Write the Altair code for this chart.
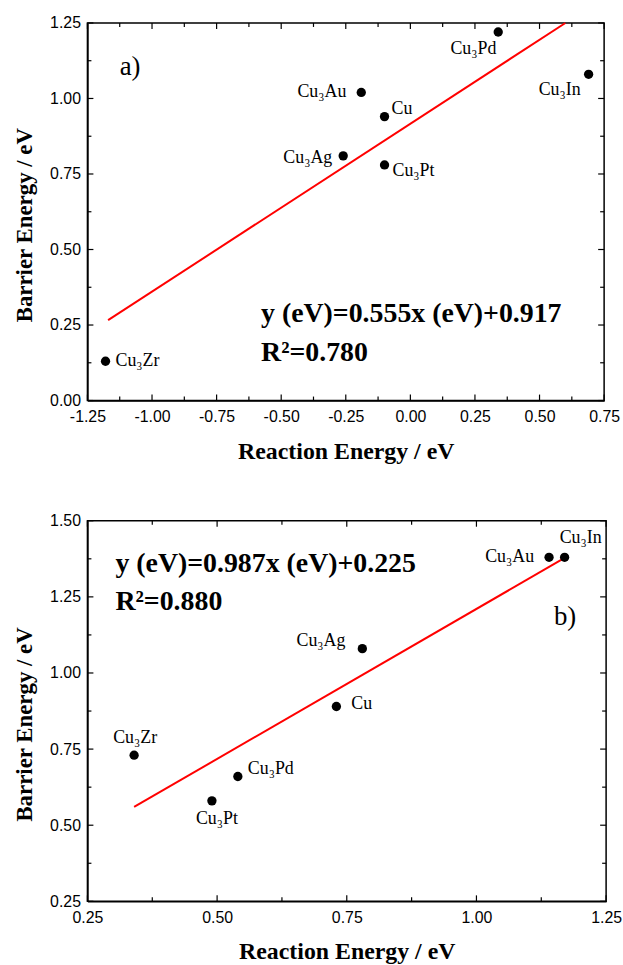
import altair as alt
import pandas as pd

# ---------------- data: panel a ----------------
a_names = ["Cu₃Pd", "Cu₃In", "Cu₃Au", "Cu", "Cu₃Ag", "Cu₃Pt", "Cu₃Zr"]
a_reaction = [0.34, 0.69, -0.19, -0.10, -0.26, -0.10, -1.18]
a_barrier = [1.22, 1.08, 1.02, 0.94, 0.81, 0.78, 0.13]
a_fit_x = [-1.17, 0.60]
a_fit_y = [0.266, 1.25]
a_x_major = [-1.25, -1.0, -0.75, -0.5, -0.25, 0.0, 0.25, 0.5, 0.75]
a_x_minor = [-1.125, -0.875, -0.625, -0.375, -0.125, 0.125, 0.375, 0.625]
a_y_major = [0.0, 0.25, 0.5, 0.75, 1.0, 1.25]
a_y_minor = [0.125, 0.375, 0.625, 0.875, 1.125]
a_eq = "y (eV)=0.555x (eV)+0.917"
a_r2 = "R²=0.780"
a_tag = "a)"

# ---------------- data: panel b ----------------
b_names = ["Cu₃In", "Cu₃Au", "Cu₃Ag", "Cu", "Cu₃Zr", "Cu₃Pd", "Cu₃Pt"]
b_reaction = [1.17, 1.14, 0.78, 0.73, 0.34, 0.54, 0.49]
b_barrier = [1.38, 1.38, 1.08, 0.89, 0.73, 0.66, 0.58]
b_fit_x = [0.34, 1.17]
b_fit_y = [0.56, 1.378]
b_x_major = [0.25, 0.5, 0.75, 1.0, 1.25]
b_x_minor = [0.375, 0.625, 0.875, 1.125]
b_y_major = [0.25, 0.5, 0.75, 1.0, 1.25, 1.5]
b_y_minor = [0.375, 0.625, 0.875, 1.125, 1.375]
b_eq = "y (eV)=0.987x (eV)+0.225"
b_r2 = "R²=0.880"
b_tag = "b)"

# ---------------- styling (offsets of point labels, in px) ----------------
a_label_style = {
    "Cu₃Pd": ("center", -25, 17),
    "Cu₃In": ("right", -8, 16),
    "Cu₃Au": ("right", -15, 0),
    "Cu": ("left", 7, -8),
    "Cu₃Ag": ("right", -11, 2),
    "Cu₃Pt": ("left", 8, 6),
    "Cu₃Zr": ("left", 10, 0),
}
b_label_style = {
    "Cu₃In": ("left", -5, -19),
    "Cu₃Au": ("right", -15, 0),
    "Cu₃Ag": ("right", -17, -8),
    "Cu": ("left", 15, -2),
    "Cu₃Zr": ("center", 1, -17),
    "Cu₃Pd": ("left", 10, -8),
    "Cu₃Pt": ("center", 5, 18),
}

SERIF = "Liberation Serif"
SANS = "Liberation Sans"
LABEL_EXPR = "replace(format(datum.value, '.2f'), '\u2212', '-')"


def panel(names, xs, ys, fit_x, fit_y, xdom, ydom, x_major, x_minor,
          y_major, y_minor, styles, eq, r2, eq_xy, r2_xy, tag, tag_xy, W, H):
    xs_ = alt.Scale(domain=xdom, nice=False, zero=False)
    ys_ = alt.Scale(domain=ydom, nice=False, zero=False)
    df = pd.DataFrame({"name": names, "reaction": xs, "barrier": ys})

    x_axis = alt.Axis(values=x_major, labelExpr=LABEL_EXPR, tickSize=0,
                      labelPadding=8, labelFlush=False, labelOverlap=False,
                      labelFont=SANS, labelFontSize=16, labelColor="black",
                      domainColor="black", domainWidth=1.5, grid=False,
                      title="Reaction Energy / eV", titleFont=SERIF,
                      titleFontWeight="bold", titleFontSize=24,
                      titleColor="black", titleX=W / 2, titleY=51,
                      titleBaseline="middle", titleAlign="center")
    y_axis = alt.Axis(values=y_major, labelExpr=LABEL_EXPR, tickSize=0,
                      labelPadding=7, labelFlush=False, labelOverlap=False,
                      labelFont=SANS, labelFontSize=16, labelColor="black",
                      domainColor="black", domainWidth=1.5, grid=False,
                      title="Barrier Energy / eV", titleFont=SERIF,
                      titleFontWeight="bold", titleFontSize=23,
                      titleColor="black", titleX=-63, titleY=H / 2 + 13,
                      titleBaseline="middle", titleAlign="center",
                      titleAngle=270)

    def X(field):
        return alt.X(field, scale=xs_, axis=x_axis)

    def Y(field):
        return alt.Y(field, scale=ys_, axis=y_axis)

    def tick_layer(values, orient, length):
        tdf = pd.DataFrame({"v": values})
        base = alt.Chart(tdf).mark_rule(color="black", strokeWidth=1.2)
        if orient == "bottom":
            return base.encode(x=X("v:Q"), y=alt.value(H), y2=alt.value(H - length))
        if orient == "top":
            return base.encode(x=X("v:Q"), y=alt.value(0), y2=alt.value(length))
        if orient == "left":
            return base.encode(y=Y("v:Q"), x=alt.value(0), x2=alt.value(length))
        return base.encode(y=Y("v:Q"), x=alt.value(W), x2=alt.value(W - length))

    fit = alt.Chart(pd.DataFrame({"x": fit_x, "y": fit_y})).mark_line(
        color="#ff0000", strokeWidth=2).encode(x=X("x:Q"), y=Y("y:Q"))

    pts = alt.Chart(df).mark_point(filled=True, color="black", size=88,
                                   opacity=1).encode(
        x=X("reaction:Q"), y=Y("barrier:Q"))

    labels = []
    for n, (al, dx, dy) in styles.items():
        labels.append(
            alt.Chart(df).transform_filter(alt.datum.name == n).mark_text(
                align=al, baseline="middle", dx=dx, dy=dy, font=SERIF,
                fontSize=18, color="black").encode(
                x=X("reaction:Q"), y=Y("barrier:Q"), text="name:N"))

    ann = pd.DataFrame({"x": [eq_xy[0], r2_xy[0]], "y": [eq_xy[1], r2_xy[1]],
                        "t": [eq, r2]})
    ann_layer = alt.Chart(ann).mark_text(
        align="left", baseline="middle", font=SERIF, fontWeight="bold",
        fontSize=28, color="black").encode(
        x=X("x:Q"), y=Y("y:Q"), text="t:N")

    tag_layer = alt.Chart(pd.DataFrame({"x": [tag_xy[0]], "y": [tag_xy[1]],
                                        "t": [tag]})).mark_text(
        align="center", baseline="middle", font=SERIF, fontSize=27,
        color="black").encode(x=X("x:Q"), y=Y("y:Q"), text="t:N")

    ticks = [
        tick_layer(x_major, "bottom", 6),
        tick_layer(x_minor, "bottom", 4),
        tick_layer(x_major, "top", 6),
        tick_layer(x_minor, "top", 4),
        tick_layer(y_major, "left", 6),
        tick_layer(y_minor, "left", 4),
        tick_layer(y_major, "right", 6),
        tick_layer(y_minor, "right", 4),
    ]
    return alt.layer(fit, pts, *labels, ann_layer, tag_layer, *ticks).properties(
        width=W, height=H)


top = panel(a_names, a_reaction, a_barrier, a_fit_x, a_fit_y,
            [-1.25, 0.75], [0.0, 1.25], a_x_major, a_x_minor,
            a_y_major, a_y_minor, a_label_style, a_eq, a_r2,
            (-0.578, 0.287), (-0.578, 0.156), a_tag, (-1.085, 1.105),
            520, 380)

bottom = panel(b_names, b_reaction, b_barrier, b_fit_x, b_fit_y,
               [0.25, 1.25], [0.25, 1.5], b_x_major, b_x_minor,
               b_y_major, b_y_minor, b_label_style, b_eq, b_r2,
               (0.304, 1.359), (0.304, 1.233), b_tag, (1.171, 1.183),
               522, 383)

chart = alt.vconcat(top, bottom, spacing=48).properties(
    padding={"left": 13, "top": 11, "right": 0, "bottom": 0},
    background="white",
).configure_view(stroke="black", strokeWidth=1.5)

chart.save("out.html", embed_options={"renderer": "svg", "actions": False})
